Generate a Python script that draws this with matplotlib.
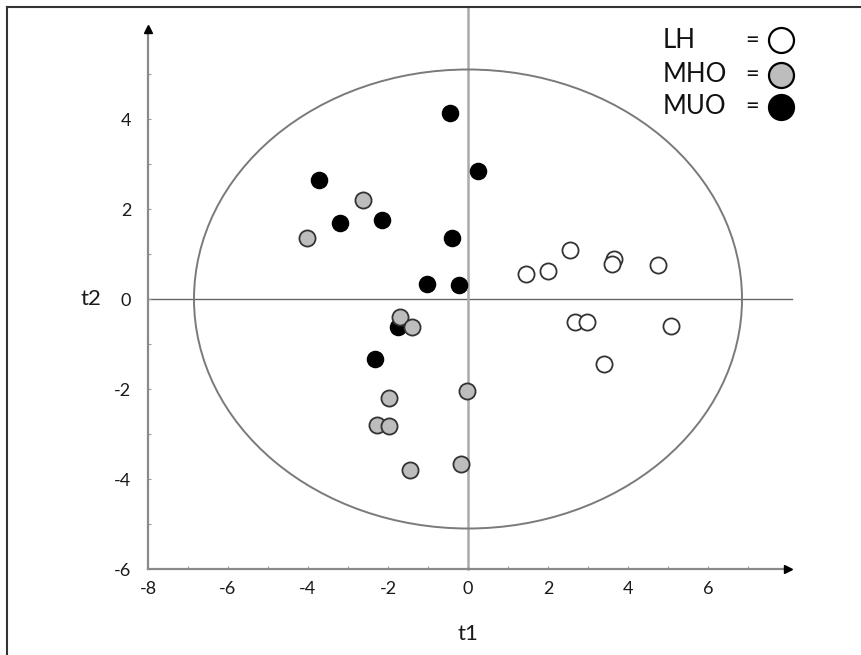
import matplotlib
matplotlib.use("Agg")
import matplotlib.pyplot as plt
import numpy as np
from matplotlib.patches import Ellipse
from matplotlib.lines import Line2D

plt.rcParams['font.family'] = ['Lato', 'DejaVu Sans']
plt.rcParams['axes.unicode_minus'] = False

# Data (t1, t2 scores)
lh_t1 = [2.55, 1.45, 2.01, 3.65, 3.61, 4.75, 2.68, 2.98, 5.07, 3.40]
lh_t2 = [1.10, 0.56, 0.63, 0.88, 0.77, 0.76, -0.52, -0.50, -0.59, -1.45]

muo_t1 = [-0.45, 0.26, -3.72, -3.19, -2.14, -0.39, -1.02, -0.23, -1.74, -2.32]
muo_t2 = [4.13, 2.85, 2.64, 1.68, 1.76, 1.36, 0.33, 0.31, -0.63, -1.34]

mho_t1 = [-2.63, -4.03, -1.70, -1.41, -0.03, -1.97, -2.28, -1.98, -1.45, -0.18]
mho_t2 = [2.21, 1.35, -0.41, -0.63, -2.04, -2.21, -2.80, -2.82, -3.80, -3.67]

group_labels = ["LH", "MHO", "MUO"]
xticks = [-8, -6, -4, -2, 0, 2, 4, 6]
yticks = [-6, -4, -2, 0, 2, 4]
ellipse_semi = (6.85, 5.1)

W, H = 861, 655
fig = plt.figure(figsize=(W / 100, H / 100), dpi=100)
ax = fig.add_axes([148 / W, (H - 569) / H, (788 - 148) / W, (569 - 29) / H])
ax.set_xlim(-8, 8)
ax.set_ylim(-6, 6)

spine_col = "#8a8a8a"
for s in ["top", "right"]:
    ax.spines[s].set_visible(False)
for s in ["left", "bottom"]:
    ax.spines[s].set_color(spine_col)
    ax.spines[s].set_linewidth(1.6)

# arrows at axis ends
ax.plot(8, -6, marker=">", color="black", markersize=6, clip_on=False, zorder=5)
ax.plot(-8, 6, marker="^", color="black", markersize=6, clip_on=False, zorder=5)

ax.set_xticks(xticks)
ax.set_yticks(yticks)
ax.set_xticks(np.arange(-8, 8, 1), minor=True)
ax.set_yticks(np.arange(-6, 6, 1), minor=True)
ax.tick_params(axis="both", which="both", direction="in", length=2, color="#999999", width=0.8)
ax.tick_params(axis="x", which="major", labelsize=13, pad=9, labelcolor="#1a1a1a")
ax.tick_params(axis="y", which="major", labelsize=13, pad=12, labelcolor="#1a1a1a")

# zero lines
ax.plot([-8, 8.1], [0, 0], color="#666666", lw=1.0, clip_on=False, zorder=1)
ax.plot([0, 0], [-6, 6.47], color="#aaaaaa", lw=1.8, clip_on=False, zorder=1)

# confidence ellipse
ax.add_patch(Ellipse((0, 0), 2 * ellipse_semi[0], 2 * ellipse_semi[1], fill=False,
                     edgecolor="#7a7a7a", lw=1.4, zorder=2))

ms = 135
ax.scatter(lh_t1, lh_t2, s=ms, facecolor="white", edgecolor="#333333", linewidth=1.3, zorder=3)
ax.scatter(muo_t1, muo_t2, s=ms, facecolor="black", edgecolor="black", linewidth=1.0, zorder=3)
ax.scatter(mho_t1, mho_t2, s=ms, facecolor="#bdbdbd", edgecolor="#333333", linewidth=1.3, zorder=4)

ax.set_xlabel("t1", fontsize=16, color="#1a1a1a", va="center", ha="center")
ax.set_ylabel("t2", fontsize=16, rotation=0, color="#1a1a1a", va="center", ha="center")
ax.xaxis.set_label_coords(0.5, (569 - 634) / 540)
ax.yaxis.set_label_coords((91 - 148) / 640, 0.5)

# legend (manual)
leg_y = [40, 75, 107]
leg_faces = ["white", "#bdbdbd", "black"]
for lab, yy, fc in zip(group_labels, leg_y, leg_faces):
    fig.text(663 / W, 1 - yy / H, lab, fontsize=18.5, va="center", ha="left", color="#111111")
    fig.text(752 / W, 1 - yy / H, "=", fontsize=17, va="center", ha="center", color="#111111")
    fig.add_artist(Line2D([781 / W], [1 - yy / H], marker="o", markersize=18,
                          markerfacecolor=fc, markeredgecolor="black", markeredgewidth=1.6,
                          transform=fig.transFigure))

# outer frame (top and left)
fig.add_artist(Line2D([7 / W, 1], [1 - 6.5 / H, 1 - 6.5 / H], color="#333333", lw=1.5,
                      transform=fig.transFigure))
fig.add_artist(Line2D([7 / W, 7 / W], [0, 1 - 6.5 / H], color="#333333", lw=1.5,
                      transform=fig.transFigure))

fig.savefig("out.png", dpi=100)
